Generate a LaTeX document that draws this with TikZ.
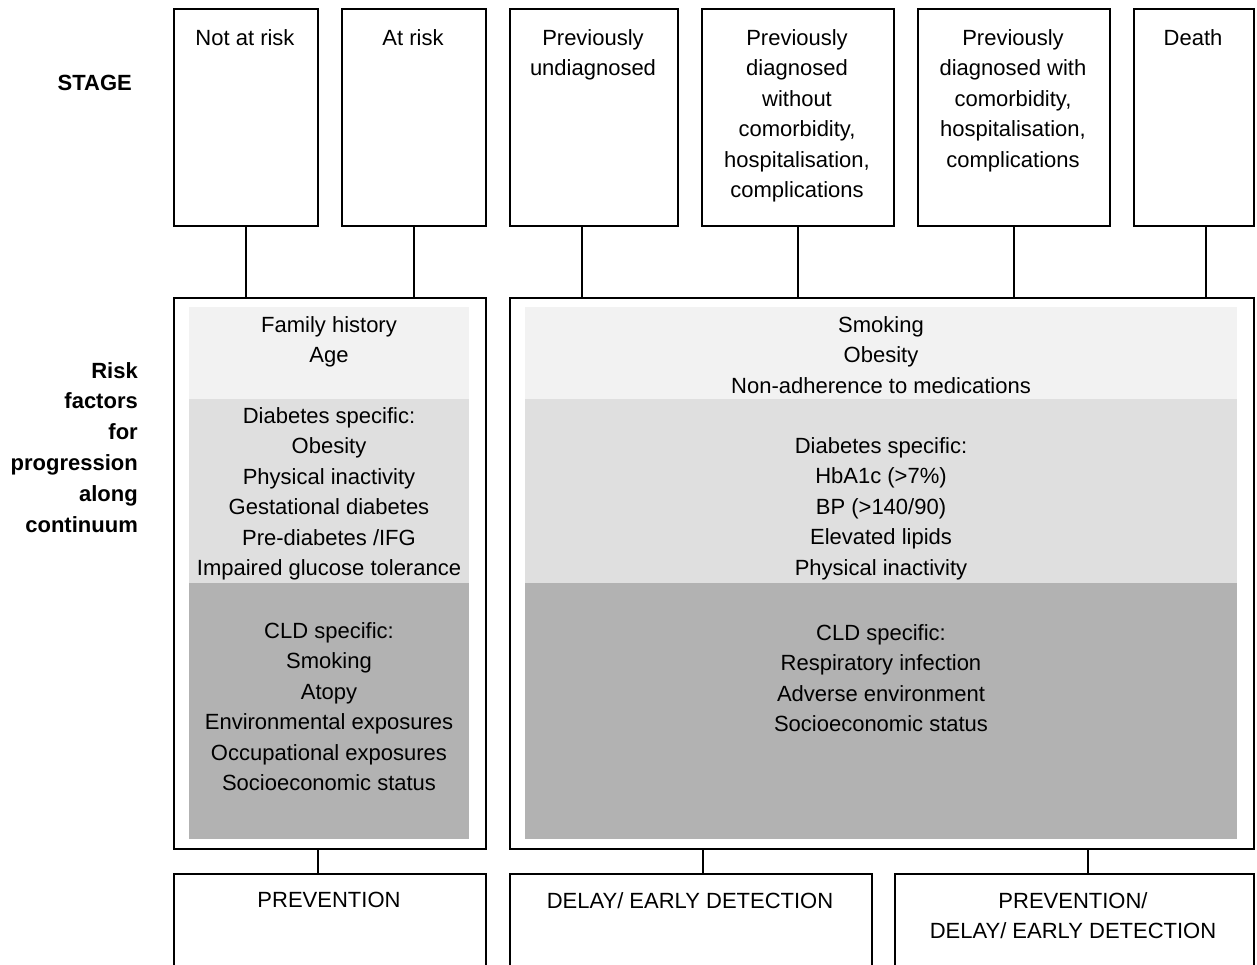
\documentclass[tikz,border=0pt]{standalone}
\usepackage{fontspec}
\setmainfont{Liberation Sans}
\definecolor{bandA}{HTML}{F2F2F2}
\definecolor{bandB}{HTML}{DFDFDF}
\definecolor{bandC}{HTML}{B2B2B2}
\tikzset{
  every node/.style={font=\fontsize{22}{30.5}\selectfont},
  box/.style={draw, line width=2pt, inner sep=0pt, anchor=north west},
  band/.style={inner sep=0pt, outer sep=0pt, anchor=north west},
  txt/.style={inner sep=0pt, anchor=north, align=center},
  lbl/.style={inner sep=0pt, align=right, font=\fontsize{22}{30.8}\selectfont\bfseries},
  conn/.style={line width=2pt},
}
\begin{document}
\begin{tikzpicture}[x=1pt, y=-1pt]
\useasboundingbox (0,0) rectangle (1257,964);
\clip (0,0) rectangle (1257,964);
% shaded bands
\node[band, fill=bandA, minimum width=280pt, minimum height=92pt]  (lb1) at (189,307) {};
\node[band, fill=bandB, minimum width=280pt, minimum height=184pt] (lb2) at (189,399) {};
\node[band, fill=bandC, minimum width=280pt, minimum height=256pt] (lb3) at (189,583) {};
\node[band, fill=bandA, minimum width=712pt, minimum height=92pt]  (rb1) at (525,307) {};
\node[band, fill=bandB, minimum width=712pt, minimum height=184pt] (rb2) at (525,399) {};
\node[band, fill=bandC, minimum width=712pt, minimum height=256pt] (rb3) at (525,583) {};
% stage boxes
\node[box, minimum width=144pt, minimum height=217pt] (s1) at (173,8) {};
\node[box, minimum width=144pt, minimum height=217pt] (s2) at (341,8) {};
\node[box, minimum width=168pt, minimum height=217pt] (s3) at (509,8) {};
\node[box, minimum width=192pt, minimum height=217pt] (s4) at (701,8) {};
\node[box, minimum width=192pt, minimum height=217pt] (s5) at (917,8) {};
\node[box, minimum width=120pt, minimum height=217pt] (s6) at (1133,8) {};
% risk factor boxes
\node[box, minimum width=312pt, minimum height=551pt] (r1) at (173,297) {};
\node[box, minimum width=744pt, minimum height=551pt] (r2) at (509,297) {};
% action boxes
\node[box, minimum width=312pt, minimum height=130pt] (b1) at (173,873) {};
\node[box, minimum width=362pt, minimum height=130pt] (b2) at (509,873) {};
\node[box, minimum width=359pt, minimum height=130pt] (b3) at (894,873) {};
% connectors
\draw[conn] (s1.south) -- (s1.south |- r1.north);
\draw[conn] (s2.south) -- (s2.south |- r1.north);
\draw[conn] ([xshift=-12pt]s3.south) -- ([xshift=-12pt]s3.south |- r2.north);
\draw[conn] (s4.south) -- (s4.south |- r2.north);
\draw[conn] (s5.south) -- (s5.south |- r2.north);
\draw[conn] ([xshift=12pt]s6.south) -- ([xshift=12pt]s6.south |- r2.north);
\draw[conn] ([xshift=-12pt]b1.north) -- ([xshift=-12pt]b1.north |- r1.south);
\draw[conn] ([xshift=12pt]b2.north) -- ([xshift=12pt]b2.north |- r2.south);
\draw[conn] ([xshift=13.5pt]b3.north) -- ([xshift=13.5pt]b3.north |- r2.south);
% stage texts
\node[txt] (t1) at (245,29) {Not at risk};
\node[txt] (t2) at (413,29) {At risk};
\node[txt] (t3) at (593,29) {Previously\\undiagnosed};
\node[txt] (t4) at (797,29) {Previously\\diagnosed\\without\\comorbidity,\\hospitalisation,\\complications};
\node[txt] (t5) at (1013,29) {Previously\\diagnosed with\\comorbidity,\\hospitalisation,\\complications};
\node[txt] (t6) at (1193,29) {Death};
% left risk texts
\node[txt] (lt1) at (329,316) {Family history\\Age};
\node[txt] (lt2) at (329,407) {Diabetes specific:\\Obesity\\Physical inactivity\\Gestational diabetes\\Pre-diabetes /IFG\\Impaired glucose tolerance};
\node[txt] (lt3) at (329,622) {CLD specific:\\Smoking\\Atopy\\Environmental exposures\\Occupational exposures\\Socioeconomic status};
% right risk texts
\node[txt] (rt1) at (881,316) {Smoking\\Obesity\\Non-adherence to medications};
\node[txt] (rt2) at (881,437) {Diabetes specific:\\HbA1c (>7\%)\\BP (>140/90)\\Elevated lipids\\Physical inactivity};
\node[txt] (rt3) at (881,624) {CLD specific:\\Respiratory infection\\Adverse environment\\Socioeconomic status};
% action texts
\node[txt] (bt1) at (329,892) {PREVENTION};
\node[txt] (bt2) at (690,892) {DELAY/ EARLY DETECTION};
\node[txt] (bt3) at (1073,892) {PREVENTION/\\DELAY/ EARLY DETECTION};
% row labels
\node[lbl, anchor=base east] (stage) at (132,90) {STAGE};
\node[lbl, anchor=north east] (risk) at (138,362) {Risk\\factors\\for\\progression\\along\\continuum};
\end{tikzpicture}
\end{document}
